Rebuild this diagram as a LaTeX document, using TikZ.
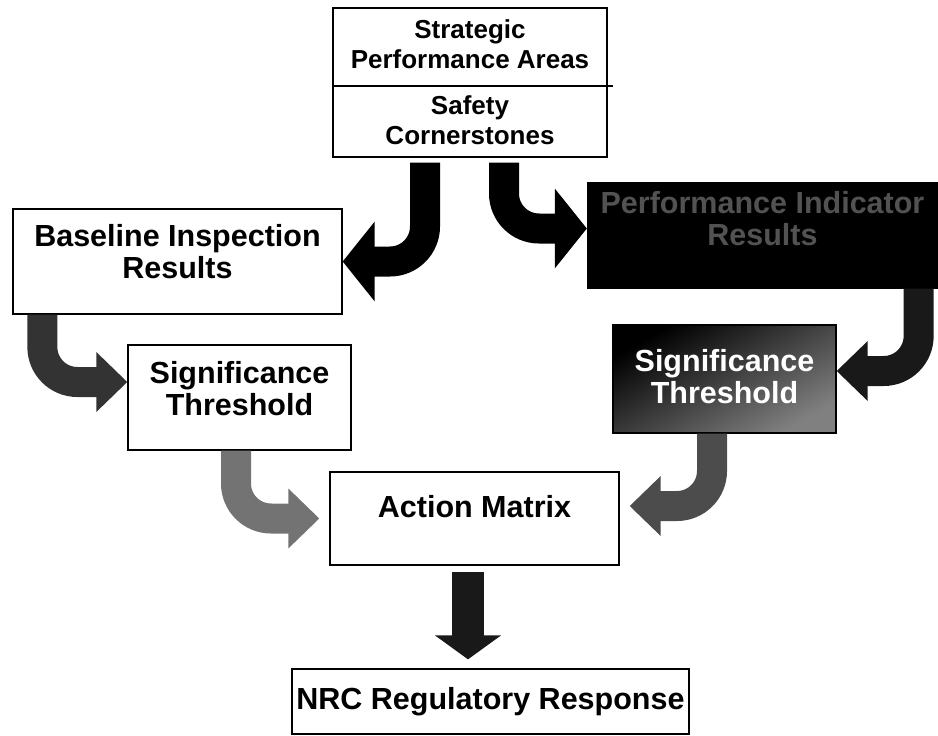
\documentclass[tikz,border=0pt]{standalone}
\usepackage{fontspec}
\setmainfont{Liberation Sans}
\usetikzlibrary {arrows.meta}
\tikzset{
        base/.style={draw, line width=1.3pt, align=center, inner sep=0pt,
                     font=\fontsize{30.5}{32}\selectfont\bfseries},
        box/.style={base, fill=white},
        darkbox/.style={base, fill=black, text=black!68},
        shadebox/.style={base, top color=black, bottom color=black!50,
                         shading angle=30, text=white},
        topbox/.style={base, font=\fontsize{26}{30}\selectfont\bfseries},
        bentline/.style={line width=30pt, rounded corners=35pt},
        bigarrow/.style={bentline, -{Triangle[length=32pt, width=78pt]}},
        smallarrow/.style={bentline, -{Triangle[length=31pt, width=58pt]}},
        downarrow/.style={line width=32pt, -{Triangle[length=24pt, width=65pt]}},
 }
\begin{document}
\begin{tikzpicture}[x=1pt, y=-1pt]
    \useasboundingbox (0,0) rectangle (938,736);

    \node[topbox, minimum width=274pt, minimum height=149pt] (areas) at (470,82.5)
         {Strategic\\Performance Areas\\[16pt]Safety\\Cornerstones};
    \draw[line width=2.8pt] ([yshift=-3.5pt]areas.west) -- ([xshift=5pt,yshift=-3.5pt]areas.east);

    \node[box, minimum width=329pt, minimum height=105pt, text depth=21pt] (baseline)
         at (177.5,261.5) {Baseline Inspection\\Results};
    \node[darkbox, minimum width=350pt, minimum height=105pt, text depth=35pt] (perf)
         at (762.5,235.5) {Performance Indicator\\Results};
    \node[box, minimum width=223pt, minimum height=105pt, text depth=19pt] (sigl)
         at (239.5,397.5) {Significance\\Threshold};
    \node[shadebox, minimum width=223pt, minimum height=108pt, text depth=6pt] (sigr)
         at (724.5,379) {Significance\\Threshold};
    \node[box, minimum width=289pt, minimum height=93pt, text depth=25pt] (action)
         at (474.5,518.5) {Action Matrix};
    \node[box, minimum width=397pt, minimum height=65pt] (nrc)
         at (490.5,701.5) {NRC Regulatory Response};

    \draw[bigarrow, draw=black] ([xshift=-45pt,yshift=-5pt]areas.south) |- (baseline.east);
    \draw[bigarrow, draw=black] ([xshift=34pt,yshift=-5pt]areas.south) |- ([yshift=7pt]perf.west);
    \draw[smallarrow, draw=black!80] ([xshift=30pt]baseline.south west) |- ([yshift=15.5pt]sigl.west);
    \draw[smallarrow, draw=black!90] ([xshift=-19.5pt]perf.south east) |- ([yshift=8pt]sigr.east);
    \draw[smallarrow, draw=black!55] ([xshift=-3.5pt]sigl.south) |- ([xshift=-10pt]action.west);
    \draw[smallarrow, draw=black!70] ([xshift=-12.5pt]sigr.south) |- ([xshift=10pt,yshift=12.5pt]action.east);

    \coordinate (mout) at ([xshift=-6.5pt,yshift=-6pt]action.south);
    \draw[downarrow, draw=black!90, shorten >=9pt] (mout) -- (mout |- nrc.north);
\end{tikzpicture}
\end{document}
